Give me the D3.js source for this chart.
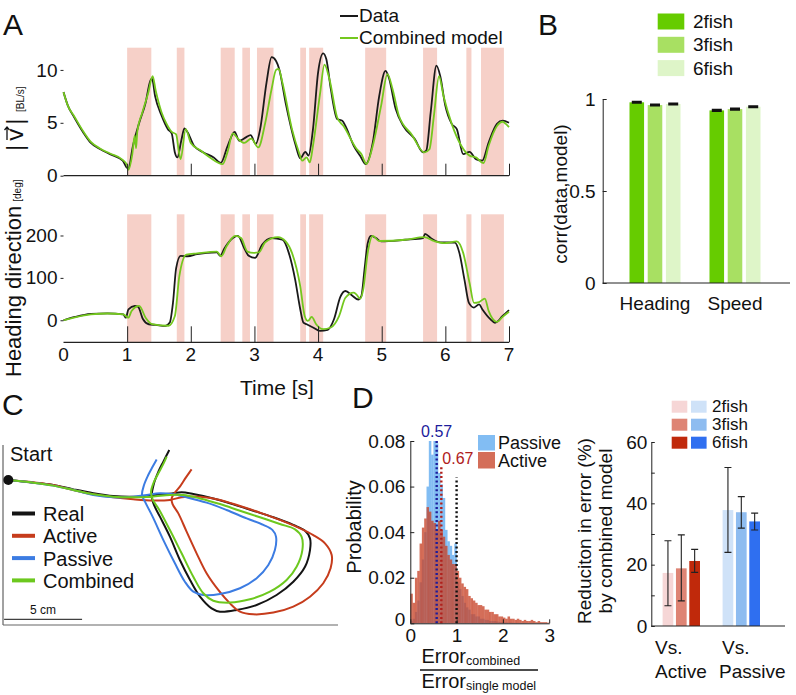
<!DOCTYPE html>
<html><head><meta charset="utf-8">
<script src="https://cdn.jsdelivr.net/npm/d3@7"></script>
<style>
body{margin:0;background:#fff}
svg{display:block}
text{font-family:"Liberation Sans",Arial,Helvetica,sans-serif;fill:#111}
</style>
</head><body>
<svg id="fig" width="796" height="695"></svg>
<script>
// ---------------- DATA ----------------
// Panel A: shaded (active) intervals, seconds
const activeIntervals = [[1.0,1.38],[1.78,1.9],[2.47,2.69],[2.81,2.93],[3.04,3.3],[3.72,3.81],[3.86,4.08],[4.74,5.07],[5.65,5.87],[6.33,6.41],[6.56,6.92]];
const timeTicks = [0,1,2,3,4,5,6,7];
const speedTicks = [0,5,10];
const headingTicks = [0,100,200];
// speed |v| [BL/s]: data (black)
const speedData = [[0,7.9],[0.07,6.6],[0.17,5.5],[0.32,4.0],[0.43,3.1],[0.58,2.5],[0.73,2.04],[0.93,1.42],[0.99,0.8],[1.02,0.7],[1.09,2.8],[1.19,5.0],[1.29,6.9],[1.36,8.9],[1.39,9.2],[1.44,7.5],[1.54,5.7],[1.64,4.4],[1.70,4.0],[1.75,2.2],[1.79,1.73],[1.85,3.3],[1.90,4.47],[1.95,4.1],[2.05,2.83],[2.2,2.2],[2.36,1.73],[2.47,1.2],[2.58,2.83],[2.69,4.15],[2.76,3.3],[2.86,3.6],[2.94,3.84],[3.02,3.0],[3.09,4.4],[3.19,8.8],[3.27,11.2],[3.34,10.85],[3.39,10.06],[3.49,6.9],[3.57,4.7],[3.65,2.83],[3.72,1.64],[3.80,2.26],[3.85,1.89],[3.92,4.4],[4.0,9.75],[4.08,11.57],[4.13,11.0],[4.2,8.2],[4.3,5.35],[4.38,5.2],[4.43,4.7],[4.56,2.83],[4.66,1.89],[4.75,1.1],[4.86,3.14],[4.96,7.5],[5.06,9.9],[5.11,9.3],[5.22,6.3],[5.34,4.7],[5.52,3.46],[5.65,2.2],[5.70,2.36],[5.77,6.0],[5.86,10.4],[5.92,9.4],[6.0,6.6],[6.1,4.9],[6.18,4.4],[6.28,2.04],[6.38,2.26],[6.48,1.57],[6.58,1.42],[6.68,3.14],[6.81,4.9],[6.9,5.2],[7.0,5.0]];
// speed: combined model (green)
const speedModel = [[0,7.9],[0.07,6.6],[0.17,5.6],[0.32,4.1],[0.43,3.2],[0.58,2.55],[0.73,2.1],[0.93,1.5],[1.0,1.0],[1.02,0.57],[1.08,2.0],[1.12,3.8],[1.14,2.6],[1.16,4.2],[1.24,6.0],[1.33,7.8],[1.40,9.4],[1.45,8.0],[1.54,6.0],[1.62,4.9],[1.70,4.15],[1.77,3.9],[1.81,2.4],[1.84,1.57],[1.92,4.4],[2.0,3.1],[2.15,2.4],[2.3,1.73],[2.5,1.1],[2.58,2.3],[2.66,4.0],[2.74,3.5],[2.84,3.1],[2.95,3.5],[3.06,2.67],[3.17,5.0],[3.27,8.2],[3.34,10.0],[3.38,10.1],[3.44,8.8],[3.59,4.4],[3.7,2.2],[3.75,1.42],[3.82,1.73],[3.87,1.26],[3.92,2.83],[4.03,7.7],[4.1,10.5],[4.18,9.1],[4.3,5.5],[4.4,4.7],[4.61,2.5],[4.68,2.04],[4.76,1.1],[4.86,2.83],[4.99,6.6],[5.09,9.6],[5.17,8.2],[5.27,5.66],[5.47,3.9],[5.67,2.2],[5.75,2.5],[5.82,5.66],[5.9,9.4],[5.97,7.55],[6.1,4.9],[6.25,2.83],[6.38,1.9],[6.48,1.73],[6.6,1.2],[6.68,2.83],[6.81,4.7],[6.9,5.1],[6.95,4.9],[7.0,4.6]];
// heading direction [deg]: data (black)
const headingData = [[0,0],[0.18,7.8],[0.43,15],[0.69,16.4],[0.94,14],[0.98,6],[1.02,25.8],[1.12,33.6],[1.17,32],[1.25,2.3],[1.34,-9.4],[1.45,-11],[1.60,-13.3],[1.67,-5.5],[1.72,41],[1.77,123],[1.84,152],[1.95,151],[2.1,156],[2.41,160],[2.46,152],[2.53,170],[2.66,194],[2.74,199],[2.84,170],[2.91,152],[3.01,147],[3.12,178],[3.27,194],[3.44,190],[3.54,159],[3.64,96],[3.72,26],[3.77,-5.5],[3.82,-9.4],[3.92,-17],[4.03,-25],[4.15,-22.6],[4.25,2.3],[4.35,55],[4.43,69],[4.53,59],[4.63,49],[4.68,57],[4.73,120],[4.78,182],[4.83,199],[4.91,194],[4.99,186],[5.37,190],[5.65,194],[5.68,204],[5.77,194],[5.92,184],[6.15,183],[6.22,159],[6.3,96],[6.37,41],[6.45,30],[6.53,37.5],[6.58,26],[6.71,2],[6.78,-6],[6.9,10],[7.0,24]];
// heading: combined model (green)
const headingModel = [[0,0],[0.18,7],[0.43,14],[0.69,16],[0.94,14],[1.02,6],[1.07,22],[1.19,34],[1.29,6],[1.39,-9],[1.65,-13],[1.75,10],[1.82,104],[1.93,155],[2.1,158],[2.41,162],[2.48,151],[2.56,174],[2.70,199],[2.79,194],[2.89,162],[2.99,159],[3.07,160],[3.17,184],[3.37,196],[3.49,186],[3.59,159],[3.72,80],[3.79,10],[3.84,-1.6],[3.9,8],[3.97,-9.4],[4.08,-21],[4.2,-17],[4.33,10],[4.43,53],[4.56,65],[4.6,61],[4.66,51],[4.71,73],[4.78,159],[4.86,199],[4.96,187],[5.37,190],[5.67,196],[5.82,187],[5.98,182],[6.18,186],[6.28,159],[6.38,88],[6.45,41],[6.53,43],[6.62,51],[6.68,22],[6.81,-4],[6.9,8],[7.0,20]];

// Panel B
const corrCategories = ["Heading","Speed"];
const fishGroups = ["2fish","3fish","6fish"];
const corrHeading = [0.982,0.967,0.973];
const corrSpeed = [0.938,0.945,0.958];
const corrErr = [0.004,0.004,0.004];
const corrTicks = [0,0.5,1];

// Panel C trajectories (cm, x right, y up; origin at start)
const trajReal = [[0,0],[1.60,-0.17],[2.88,-0.32],[4.17,-0.60],[5.45,-0.85],[6.73,-1.03],[8.01,-1.07],[9.29,-0.98],[10.58,-0.85],[11.11,-0.79],[11.86,-0.90],[13.14,-1.18],[14.42,-1.56],[15.71,-1.97],[16.99,-2.39],[18.27,-2.88],[19.02,-3.25],[19.34,-3.74],[19.34,-4.49],[19.02,-5.56],[18.27,-6.52],[17.20,-7.37],[15.92,-8.01],[14.64,-8.33],[13.57,-8.44],[13.03,-8.23],[12.29,-7.48],[11.65,-6.41],[11.00,-5.13],[10.36,-3.63],[9.72,-2.35],[9.34,-1.60],[9.19,-1.07],[9.34,-0.21],[9.62,0.53],[9.94,1.18],[10.32,1.92]];
const trajActive = [[0,0],[1.60,-0.15],[2.88,-0.32],[4.17,-0.64],[5.45,-0.92],[6.73,-1.11],[8.01,-1.24],[9.29,-1.32],[10.36,-1.28],[11.11,-1.11],[12.29,-1.07],[13.57,-1.28],[14.85,-1.67],[16.13,-2.09],[17.41,-2.56],[18.70,-3.10],[19.55,-3.53],[20.30,-4.06],[20.73,-4.81],[20.66,-5.66],[20.19,-6.62],[19.34,-7.48],[18.27,-8.12],[16.99,-8.50],[15.71,-8.61],[14.85,-8.44],[14.21,-7.91],[13.46,-7.05],[12.71,-5.98],[12.07,-4.70],[11.43,-3.31],[10.90,-2.14],[10.53,-1.54],[10.47,-1.18],[10.68,-0.81],[11.00,-0.43],[11.39,0.17],[11.75,0.68]];
const trajPassive = [[0,0],[1.60,-0.17],[2.88,-0.36],[4.17,-0.64],[5.45,-0.96],[6.73,-1.11],[8.01,-1.07],[8.87,-0.96],[9.72,-0.85],[10.58,-0.92],[11.43,-1.11],[12.71,-1.45],[13.99,-1.92],[15.28,-2.46],[16.35,-2.88],[16.94,-3.21],[17.16,-3.63],[17.09,-4.49],[16.67,-5.45],[15.92,-6.30],[14.85,-6.94],[13.57,-7.31],[12.50,-7.37],[11.86,-7.16],[11.32,-6.52],[10.68,-5.34],[9.94,-3.85],[9.25,-2.35],[8.76,-1.39],[8.57,-0.96],[8.70,-0.32],[8.97,0.32],[9.25,0.85],[9.51,1.32]];
const trajCombined = [[0,0],[1.60,-0.17],[2.88,-0.36],[4.17,-0.64],[5.45,-0.92],[6.73,-1.07],[8.01,-1.11],[9.19,-1.07],[10.36,-0.96],[11.22,-0.96],[12.29,-1.18],[13.57,-1.54],[14.85,-1.97],[16.13,-2.39],[17.41,-2.82],[18.38,-3.16],[18.80,-3.63],[18.85,-4.49],[18.48,-5.56],[17.84,-6.41],[16.77,-7.16],[15.49,-7.65],[14.21,-7.86],[13.14,-7.74],[12.50,-7.26],[11.86,-6.20],[11.11,-4.70],[10.36,-3.21],[9.68,-1.92],[9.25,-1.24],[9.15,-0.75],[9.34,-0.11],[9.62,0.43],[9.94,1.03],[10.15,1.50]];
const trajLabels = ["Real","Active","Passive","Combined"];
const scaleBarCm = 5;

// Panel D histogram (bin width 0.05, from 0 to 3)
const binWidth = 0.05;
const passiveProb = [0.001,0.002,0.005,0.010,0.018,0.028,0.040,0.060,0.080,0.074,0.080,0.079,0.066,0.061,0.055,0.041,0.036,0.034,0.030,0.035,
 0.018,0.015,0.012,0.009,0.007,0.006,0.004,0.004,0.003,0.003,0.002,0.002,0.0015,0.0015,0.001,0.001,0.001,0.0008,0.0006,0.0005,
 0.0004,0.0004,0.0003,0.0003,0.0002,0.0002,0.0002,0.0001,0.0001,0.0001,0,0,0,0,0,0,0,0,0,0];
const activeProb = [0.013,0.009,0.020,0.023,0.035,0.042,0.046,0.051,0.049,0.045,0.044,0.041,0.045,0.041,0.038,0.034,0.030,0.028,0.026,0.026,
 0.023,0.020,0.0175,0.016,0.015,0.012,0.011,0.010,0.009,0.008,0.008,0.0075,0.006,0.006,0.005,0.005,0.004,0.004,0.003,0.003,
 0.0025,0.002,0.003,0.002,0.002,0.0015,0.002,0.0015,0.001,0.0015,0.001,0.001,0.0015,0.001,0.0005,0.001,0.0005,0.0005,0.0005,0.0003];
const medianLines = [{v:0.57, top:0.080, c:"#1c1c9c"},{v:0.67, top:0.069, c:"#b0201c"},{v:1.0, top:0.064, c:"#111"}];
const histXTicks = [0,1,2,3];
const histYTicks = [0,0.02,0.04,0.06,0.08];

// Panel E reduction in error (%)
const redCategories = ["Active","Passive"];
const redMean = {Active:[17.3,18.8,21.2], Passive:[37.8,37.1,34.1]};
const redLo   = {Active:[6.6,8.2,17.5],   Passive:[24.0,31.9,31.3]};
const redHi   = {Active:[27.8,29.7,25.0], Passive:[51.7,42.2,36.8]};
const redTicks = [0,10,20,30,40,50,60];

// ---------------- DRAW ----------------
const svg = d3.select("#fig");
const FONT = 19;
function styleAxis(g, fs){
  g.attr("font-family",null).attr("font-size",null);
  g.selectAll("text").style("font-size",fs+"px").style("fill","#111");
  g.selectAll("line,path").attr("stroke","#222");
}
function panelLetter(t,x,y){ svg.append("text").attr("x",x).attr("y",y).style("font-size","30px").text(t); }

// ---- Panel A ----
const xT = d3.scaleLinear().domain([0,7]).range([63.5,509]);
const ySpd = d3.scaleLinear().domain([0,12.1]).range([175.7,47.7]);
const yHd = d3.scaleLinear().domain([-52,250]).range([342.3,214.3]);
const pink = "#f6d0c8";
[ySpd,yHd].forEach(ys=>{
  svg.append("g").selectAll("rect").data(activeIntervals).join("rect")
    .attr("x",d=>xT(d[0])).attr("width",d=>xT(d[1])-xT(d[0]))
    .attr("y",ys.range()[1]).attr("height",ys.range()[0]-ys.range()[1])
    .attr("fill",pink);
});
const lineSpd = d3.line().x(d=>xT(d[0])).y(d=>ySpd(d[1])).curve(d3.curveMonotoneX);
const lineHd = d3.line().x(d=>xT(d[0])).y(d=>yHd(d[1])).curve(d3.curveMonotoneX);
svg.append("path").attr("d",lineSpd(speedData)).attr("fill","none").attr("stroke","#1a1a1a").attr("stroke-width",1.8);
svg.append("path").attr("d",lineSpd(speedModel)).attr("fill","none").attr("stroke","#74c81e").attr("stroke-width",1.8);
svg.append("path").attr("d",lineHd(headingData)).attr("fill","none").attr("stroke","#1a1a1a").attr("stroke-width",1.8);
svg.append("path").attr("d",lineHd(headingModel)).attr("fill","none").attr("stroke","#74c81e").attr("stroke-width",1.8);

[[ySpd,12,false],[yHd,16,true]].forEach(([ys,tl,lab])=>{
  const g = svg.append("g").attr("transform",`translate(0,${ys.range()[0]})`)
    .call(d3.axisBottom(xT).tickValues(timeTicks.slice(1)).tickSizeInner(-tl).tickSizeOuter(0).tickFormat(""));
  styleAxis(g,FONT);
  g.select(".domain").attr("stroke-width",1.3).attr("d",`M${xT(0)},0H${xT(7)}`);
  if(lab){
    svg.append("g").selectAll("text").data(timeTicks).join("text")
      .attr("x",d=>xT(d)).attr("y",ys.range()[0]+19).attr("text-anchor","middle")
      .style("font-size",FONT+"px").text(d=>d);
  }
});
[[ySpd,speedTicks],[yHd,headingTicks]].forEach(([ys,tv])=>{
  const g = svg.append("g").attr("transform",`translate(${xT(0)},0)`)
    .call(d3.axisLeft(ys).tickValues(tv).tickSize(3).tickPadding(3));
  styleAxis(g,FONT);
  g.select(".domain").remove();
});
svg.append("text").attr("x",277).attr("y",395).attr("text-anchor","middle").style("font-size","21px").text("Time [s]");
{
  const g = svg.append("g").attr("transform","translate(23,0) rotate(-90)");
  g.append("text").attr("x",-151).attr("y",0).style("font-size","24px").style("letter-spacing","4px").text("|v|");
  g.append("text").attr("x",-112).attr("y",1).style("font-size","10px").text("[BL/s]");
  g.append("path").attr("d","M-140,-16H-127M-130,-18.5L-127,-16L-130,-13.5").attr("fill","none").attr("stroke","#111").attr("stroke-width",1.3);
}
{
  const g = svg.append("g").attr("transform","translate(21,0) rotate(-90)");
  const t = g.append("text").attr("x",-377).attr("y",0).style("font-size","22px");
  t.append("tspan").text("Heading direction");
  t.append("tspan").attr("dx",4).style("font-size","10px").text("[deg]");
}
svg.append("line").attr("x1",340).attr("x2",358).attr("y1",16).attr("y2",16).attr("stroke","#1a1a1a").attr("stroke-width",2);
svg.append("text").attr("x",359).attr("y",22).style("font-size",FONT+"px").text("Data");
svg.append("line").attr("x1",340).attr("x2",358).attr("y1",38).attr("y2",38).attr("stroke","#74c81e").attr("stroke-width",2);
svg.append("text").attr("x",359).attr("y",44).style("font-size",FONT+"px").text("Combined model");
panelLetter("A",3,35);

// ---- Panel B ----
const greens = ["#66cc00","#a8e062","#def5c8"];
const xB = d3.scaleBand().domain(corrCategories).range([615,775]);
const xBi = d3.scaleBand().domain(fishGroups).range([-25.5,25.5]).paddingInner(0.2);
const yB = d3.scaleLinear().domain([0,1]).range([283,99]);
const corrVals = {Heading:corrHeading, Speed:corrSpeed};
corrCategories.forEach(c=>{
  const cx = xB(c)+xB.bandwidth()/2;
  fishGroups.forEach((f,i)=>{
    const x = cx + xBi(f);
    const v = corrVals[c][i];
    svg.append("rect").attr("x",x).attr("width",xBi.bandwidth()).attr("y",yB(v)).attr("height",yB(0)-yB(v)).attr("fill",greens[i]);
    const mx = x + xBi.bandwidth()/2;
    svg.append("path").attr("d",`M${mx},${yB(v-corrErr[i])}V${yB(v+corrErr[i])}M${mx-5},${yB(v+corrErr[i])}H${mx+5}M${mx-5},${yB(v-corrErr[i])}H${mx+5}`)
      .attr("stroke","#111").attr("stroke-width",1.6).attr("fill","none");
  });
  svg.append("text").attr("x",cx).attr("y",310).attr("text-anchor","middle").style("font-size",FONT+"px").text(c);
});
{
  const g = svg.append("g").attr("transform","translate(602.7,0)")
    .call(d3.axisLeft(yB).tickValues(corrTicks).tickSizeInner(-4).tickSizeOuter(0).tickPadding(7)
      .tickFormat(d=>d===0?"0":d===1?"1":"0.5"));
  styleAxis(g,FONT);
}
svg.append("line").attr("x1",602.7).attr("x2",790).attr("y1",283).attr("y2",283).attr("stroke","#222");
svg.append("text").attr("transform","translate(567,194) rotate(-90)").attr("text-anchor","middle").style("font-size",FONT+"px").text("corr(data,model)");
fishGroups.forEach((f,i)=>{
  const y = 13.5 + i*23.3;
  svg.append("rect").attr("x",657.7).attr("y",y).attr("width",26.6).attr("height",16).attr("fill",greens[i]);
  svg.append("text").attr("x",693).attr("y",y+14.5).style("font-size",FONT+"px").text(f);
});
panelLetter("B",538,35);

// ---- Panel C ----
const xC = d3.scaleLinear().domain([0,1]).range([8.3,8.3+15.6]);
const yC = d3.scaleLinear().domain([0,1]).range([480,480-15.6]);
svg.append("line").attr("x1",3).attr("x2",3).attr("y1",445).attr("y2",625).attr("stroke","#444");
svg.append("line").attr("x1",3).attr("x2",338).attr("y1",625).attr("y2",625).attr("stroke","#666").attr("stroke-width",1.2);
const trajColors = ["#141414","#c63c1c","#3c7ce2","#6cc81e"];
const trajs = [trajReal,trajActive,trajPassive,trajCombined];
const lineC = d3.line().x(d=>xC(d[0])).y(d=>yC(d[1])).curve(d3.curveCatmullRom);
trajs.forEach((t,i)=>{
  svg.append("path").attr("d",lineC(t)).attr("fill","none").attr("stroke",trajColors[i]).attr("stroke-width",2);
});
svg.append("circle").attr("cx",xC(0)).attr("cy",yC(0)).attr("r",5).attr("fill","#111");
svg.append("text").attr("x",10).attr("y",461).style("font-size","20px").text("Start");
trajLabels.forEach((l,i)=>{
  const y = 513.5 + i*22.3;
  svg.append("line").attr("x1",12).attr("x2",35).attr("y1",y).attr("y2",y).attr("stroke",trajColors[i]).attr("stroke-width",4);
  svg.append("text").attr("x",43).attr("y",y+7.5).style("font-size","20px").text(l);
});
svg.append("line").attr("x1",xC(-0.27)).attr("x2",xC(-0.27+scaleBarCm)).attr("y1",619.3).attr("y2",619.3).attr("stroke","#111");
svg.append("text").attr("x",xC(-0.27+scaleBarCm/2)).attr("y",614).attr("text-anchor","middle").style("font-size","12px").text(scaleBarCm+" cm");
panelLetter("C",2,415);

// ---- Panel D ----
const xP = d3.scaleLinear().domain([0,3]).range([410.3,549.2]);
const yP = d3.scaleLinear().domain([0,0.08]).range([623.3,441]);
const bw = xP(binWidth)-xP(0);
svg.append("g").selectAll("rect").data(passiveProb).join("rect")
  .attr("x",(d,i)=>xP(i*binWidth)).attr("width",bw+0.2).attr("y",d=>yP(d)).attr("height",d=>yP(0)-yP(d)).attr("fill","#82bdf3");
svg.append("g").selectAll("rect").data(activeProb).join("rect")
  .attr("x",(d,i)=>xP(i*binWidth)).attr("width",bw+0.2).attr("y",d=>yP(d)).attr("height",d=>yP(0)-yP(d)).attr("fill","#c8452a").attr("fill-opacity",0.78);
medianLines.forEach(m=>{
  svg.append("line").attr("x1",xP(m.v)).attr("x2",xP(m.v)).attr("y1",yP(0)).attr("y2",yP(m.top))
    .attr("stroke",m.c).attr("stroke-width",2.4).attr("stroke-dasharray","2,2.4");
});
svg.append("text").attr("x",xP(0.57)).attr("y",437).attr("text-anchor","middle").style("font-size","16px").style("fill","#1c1c9c").text("0.57");
svg.append("text").attr("x",xP(0.67)+1).attr("y",464).attr("text-anchor","start").style("font-size","16px").style("fill","#b0201c").text("0.67");
{
  const gx = svg.append("g").attr("transform",`translate(0,${yP(0)})`)
    .call(d3.axisBottom(xP).tickValues(histXTicks).tickSizeInner(-4).tickSizeOuter(0).tickPadding(5).tickFormat(d3.format("d")));
  styleAxis(gx,FONT);
  const gy = svg.append("g").attr("transform",`translate(${xP(0)},0)`)
    .call(d3.axisLeft(yP).tickValues(histYTicks).tickSizeInner(-4).tickSizeOuter(0).tickPadding(5)
      .tickFormat(d=>d===0?"0":d.toFixed(2)));
  styleAxis(gy,FONT);
  gy.selectAll(".tick").filter(d=>d===0).select("text").attr("dy","0.1em");
}
svg.append("text").attr("transform","translate(361,527) rotate(-90)").attr("text-anchor","middle").style("font-size","20px").text("Probability");
svg.append("rect").attr("x",478).attr("y",435).attr("width",17).attr("height",15.5).attr("fill","#82bdf3");
svg.append("text").attr("x",498).attr("y",448.5).style("font-size","18px").text("Passive");
svg.append("rect").attr("x",478).attr("y",452).attr("width",17).attr("height",16.5).attr("fill","#c8452a").attr("fill-opacity",0.78);
svg.append("text").attr("x",498).attr("y",467).style("font-size","18px").text("Active");
{
  const t1 = svg.append("text").attr("x",421.5).attr("y",663).style("font-size","20px");
  t1.append("tspan").text("Error");
  t1.append("tspan").attr("dy",2).style("font-size","12.5px").text("combined");
  svg.append("line").attr("x1",420).attr("x2",538).attr("y1",670).attr("y2",670).attr("stroke","#111").attr("stroke-width",1.5);
  const t2 = svg.append("text").attr("x",421.5).attr("y",688).style("font-size","20px");
  t2.append("tspan").text("Error");
  t2.append("tspan").attr("dy",2).style("font-size","12.5px").text("single model");
}
panelLetter("D",352,408);

// ---- Panel E ----
const reds = ["#f6d6d6","#de8474","#c0290b"];
const blues = ["#cfe2f8","#8ebcf0","#2f6ff0"];
const xE = d3.scaleBand().domain(redCategories).range([651.3,771.3]);
const xEi = d3.scaleBand().domain(fishGroups).range([-18.7,18.7]).paddingInner(0.2);
const yE = d3.scaleLinear().domain([0,60]).range([626,442]);
const catLabelX = {Active:655, Passive:719};
redCategories.forEach((c,ci)=>{
  const cx = xE(c)+xE.bandwidth()/2;
  const cols = ci===0?reds:blues;
  fishGroups.forEach((f,i)=>{
    const x = cx + xEi(f);
    const v = redMean[c][i];
    svg.append("rect").attr("x",x).attr("width",xEi.bandwidth()).attr("y",yE(v)).attr("height",yE(0)-yE(v)).attr("fill",cols[i]);
  });
  fishGroups.forEach((f,i)=>{
    const mx = cx + xEi(f) + xEi.bandwidth()/2;
    const lo = yE(redLo[c][i]), hi = yE(redHi[c][i]);
    svg.append("path").attr("d",`M${mx},${lo}V${hi}M${mx-3.5},${hi}H${mx+3.5}M${mx-3.5},${lo}H${mx+3.5}`)
      .attr("stroke","#222").attr("stroke-width",1.1).attr("fill","none");
  });
  svg.append("text").attr("x",catLabelX[c]+(c==="Passive"?3:0)).attr("y",654).style("font-size",FONT+"px").text("Vs.");
  svg.append("text").attr("x",catLabelX[c]).attr("y",678).style("font-size",FONT+"px").text(c);
});
{
  const g = svg.append("g").attr("transform","translate(651.3,0)")
    .call(d3.axisLeft(yE).tickValues(redTicks).tickSizeInner(-3.5).tickSizeOuter(0).tickPadding(4)
      .tickFormat(d=>d%20===0?d:""));
  styleAxis(g,FONT);
}
svg.append("line").attr("x1",651.3).attr("x2",785).attr("y1",626).attr("y2",626).attr("stroke","#222");
svg.append("text").attr("transform","translate(591,531) rotate(-90)").attr("text-anchor","middle").style("font-size",FONT+"px").text("Reduciton in error (%)");
svg.append("text").attr("transform","translate(612,531) rotate(-90)").attr("text-anchor","middle").style("font-size",FONT+"px").text("by combined model");
fishGroups.forEach((f,i)=>{
  const y = 400.7 + i*18;
  svg.append("rect").attr("x",671.7).attr("y",y).attr("width",15.6).attr("height",12).attr("fill",reds[i]);
  svg.append("rect").attr("x",691).attr("y",y).attr("width",15.6).attr("height",12).attr("fill",blues[i]);
  svg.append("text").attr("x",712).attr("y",y+11.5).style("font-size","17px").text(f);
});
</script>
</body></html>
